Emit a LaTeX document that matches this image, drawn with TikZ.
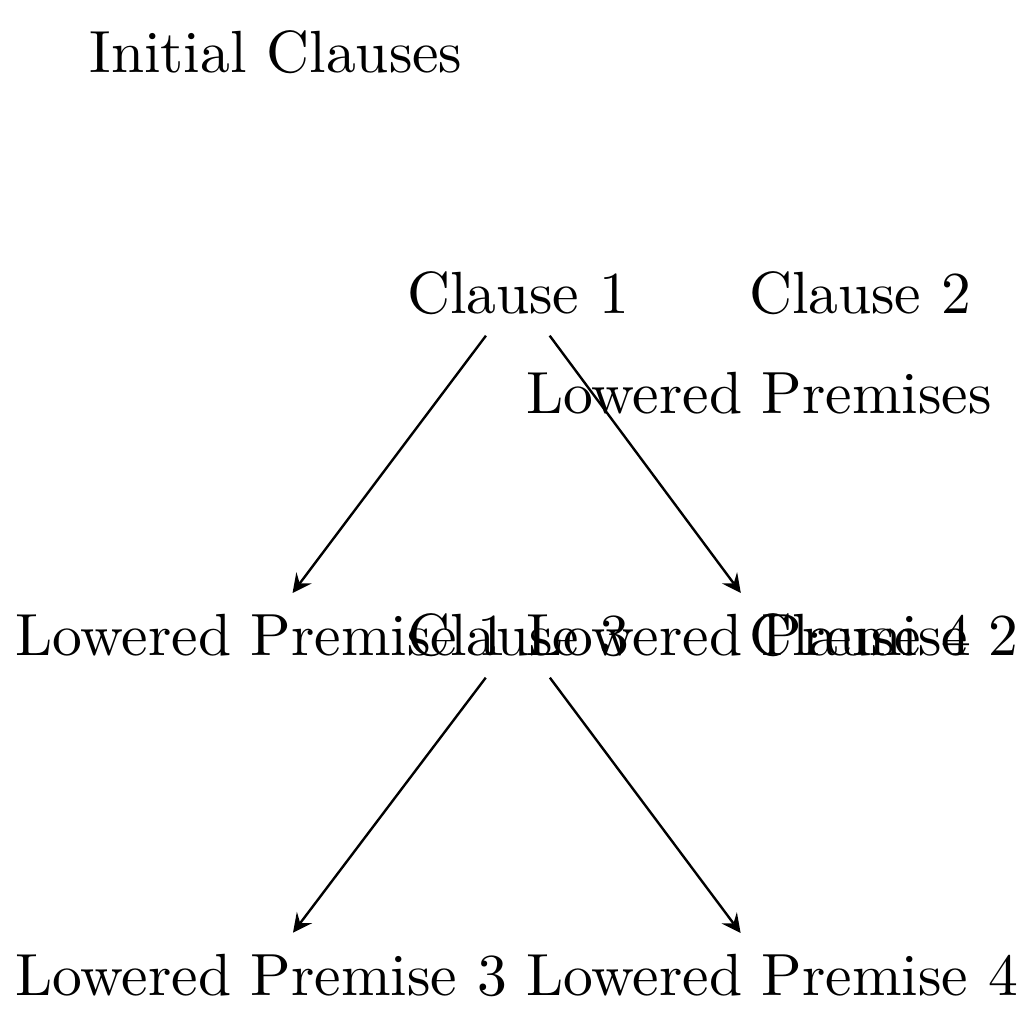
\documentclass[tikz,border=0pt]{standalone}
\usetikzlibrary{arrows}
\tikzset{lbl/.style={inner sep=0.3333em}, edge/.style={-stealth, line width=0.4pt}}
\begin{document}
\begin{tikzpicture}[x=0.168pt, y=-0.168pt]
\useasboundingbox (0,0) rectangle (1024,1024);
\node[lbl] (init) at (276,52) {Initial Clauses};
\node[lbl] (c1) at (518,293) {Clause 1};
\node[lbl] (c2) at (860,293) {Clause 2};
\node[lbl] (lps) at (759,393) {Lowered Premises};
\node[lbl] (lp1) at (261,635) {Lowered Premise 1};
\node[lbl] (c3) at (518,635) {Clause 3};
\node[lbl] (lp2) at (772,635) {Lowered Premise 2};
\node[lbl] (c4) at (860,635) {Clause 4};
\node[lbl] (lp3) at (261,975) {Lowered Premise 3};
\node[lbl] (lp4) at (772,975) {Lowered Premise 4};
\draw[edge] (c1) -- (lp1);
\draw[edge] (c1) -- (lp2);
\draw[edge] (c3) -- (lp3);
\draw[edge] (c3) -- (lp4);
\end{tikzpicture}
\end{document}
